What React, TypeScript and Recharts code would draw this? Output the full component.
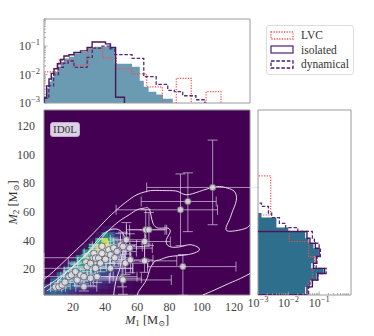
import React from "react";
import {
  ComposedChart,
  Area,
  Line,
  Scatter,
  XAxis,
  YAxis,
  ErrorBar,
  ReferenceArea,
  Legend,
  Label,
} from "recharts";

const SERIF = '"Liberation Serif", "DejaVu Serif", serif';

// marginal histograms: [bin start, density], last entry closes the last bin
const topTotal: number[][] = [
  [2, 0.0017], [3.6, 0.0033], [5.1, 0.0056], [6.5, 0.0084], [8.2, 0.0125], [10.3, 0.019],
  [12.3, 0.028], [14.4, 0.037], [17.5, 0.042], [20.6, 0.055], [24.7, 0.062], [28.8, 0.083],
  [33, 0.095], [43.3, 0.085], [46, 0.024], [56.7, 0.019], [61.5, 0.006], [64, 0.0037],
  [67, 0.0025], [71.8, 0.002], [75.9, 0.0014], [82, 0],
];
const topIsolated: number[][] = [
  [2, 0.0015], [3.6, 0.004], [5.1, 0.007], [6.5, 0.011], [8.2, 0.016], [10.3, 0.024],
  [12.3, 0.034], [14.4, 0.045], [17.5, 0.05], [20.6, 0.06], [24.7, 0.068], [28.8, 0.09],
  [31.9, 0.14], [40.2, 0.12], [43.3, 0.09], [46.5, 0.0016], [52, 0],
];
const topDynamical: number[][] = [
  [2, 0.0015], [5, 0.004], [8, 0.01], [11, 0.018], [14, 0.025], [17, 0.03], [20.6, 0.018],
  [28.8, 0.04], [32, 0.085], [38, 0.1], [43, 0.08], [46, 0.05], [56.7, 0.037], [64, 0.0084],
  [71.7, 0.0045], [78.9, 0.0028], [83, 0.0025], [88.2, 0.0018], [96.4, 0.0013], [102, 0],
];
const topLVC: number[][] = [
  [2, 0.0125], [11.3, 0.032], [20.6, 0.022], [29.4, 0.085], [38.5, 0.038], [47, 0.016],
  [56.5, 0.0105], [65.8, 0.0037], [75.5, 0], [84.2, 0.0074], [93.5, 0], [102.7, 0.0025], [112, 0],
];

const sideTotal: number[][] = [
  [2, 0.035], [7.7, 0.05], [12.4, 0.083], [17, 0.14], [20.6, 0.055], [24.1, 0.07], [28.8, 0.095],
  [34.6, 0.065], [38.1, 0.045], [41.6, 0.035], [46.3, 0.0098], [49, 0.004], [56, 0.0013], [59.1, 0],
];
const sideIsolated: number[][] = [
  [2, 0.04], [7.7, 0.06], [12.4, 0.09], [17, 0.15], [20.6, 0.065], [24.1, 0.08], [28.8, 0.1],
  [34.6, 0.075], [38.1, 0.05], [41.6, 0.04], [46.3, 0],
];
const sideDynamical: number[][] = [
  [2, 0.045], [7.7, 0.05], [12.4, 0.09], [17, 0.17], [20.6, 0.08], [24.1, 0.085], [28.8, 0.11],
  [34.6, 0.1], [38.1, 0.07], [41.6, 0.06], [46.3, 0.02], [49, 0.008], [52, 0.005], [56, 0.0028],
  [59.1, 0.0022], [63.8, 0.0013], [66, 0],
];
const sideLVC: number[][] = [
  [2, 0.045], [11.3, 0.06], [20.6, 0.07], [28.8, 0.045], [39.3, 0.0105], [46.3, 0],
  [57.8, 0.0026], [85, 0],
];

// 2D density (rows = M2 bins from the bottom, cols = M1 bins)
const heatM1Edges = [2, 6, 10, 14, 18, 22, 26, 30, 34, 38, 42, 46, 50, 54, 58, 62];
const heatM2Edges = [2, 6, 10, 14, 18, 22, 26, 30, 34, 38, 42, 46, 50];
const heatDensity: number[][] = [
  [0.25, 0.35, 0.3, 0.22, 0.15, 0.1, 0.08, 0.06, 0.05, 0.04, 0.03, 0.02, 0.02, 0.01, 0],
  [0.2, 0.45, 0.48, 0.4, 0.3, 0.22, 0.16, 0.12, 0.1, 0.08, 0.06, 0.05, 0.03, 0.02, 0.01],
  [0.02, 0.3, 0.5, 0.5, 0.45, 0.36, 0.28, 0.22, 0.18, 0.14, 0.11, 0.08, 0.05, 0.03, 0.01],
  [0, 0.05, 0.35, 0.52, 0.55, 0.5, 0.42, 0.34, 0.28, 0.22, 0.16, 0.11, 0.07, 0.03, 0.01],
  [0, 0, 0.05, 0.4, 0.55, 0.6, 0.55, 0.46, 0.38, 0.3, 0.22, 0.15, 0.08, 0.04, 0.02],
  [0, 0, 0, 0.05, 0.45, 0.6, 0.65, 0.62, 0.52, 0.42, 0.32, 0.2, 0.1, 0.05, 0.02],
  [0, 0, 0, 0, 0.05, 0.5, 0.68, 0.75, 0.72, 0.6, 0.42, 0.26, 0.12, 0.05, 0.02],
  [0, 0, 0, 0, 0, 0.05, 0.55, 0.75, 0.85, 0.85, 0.58, 0.3, 0.12, 0.04, 0.01],
  [0, 0, 0, 0, 0, 0, 0.05, 0.6, 0.85, 0.98, 0.75, 0.32, 0.1, 0.03, 0],
  [0, 0, 0, 0, 0, 0, 0, 0.05, 0.6, 0.9, 0.6, 0.22, 0.05, 0.01, 0],
  [0, 0, 0, 0, 0, 0, 0, 0, 0.05, 0.45, 0.35, 0.12, 0.02, 0, 0],
  [0, 0, 0, 0, 0, 0, 0, 0, 0, 0.05, 0.08, 0.03, 0, 0, 0],
];

// contour lines [M1, M2]
const contourOuter: number[][] = [
  [2, 13], [8, 18.5], [16, 27], [24, 35.5], [30, 42], [36, 49], [42, 56], [49.5, 63.7],
  [55, 68.5], [59.8, 72], [65, 74], [69.7, 74.9], [78, 74.8], [85.2, 74.2], [90.4, 71.9],
  [98.6, 74.2], [105, 76.5], [111, 77.7], [116, 76.5], [120.3, 74.2], [121.5, 68],
  [119, 60], [117.2, 54.4], [115.1, 47.5], [121, 46.8], [127.5, 48.6], [130, 51],
];
const contourMid: number[][] = [
  [2, 7], [10, 13], [20, 22], [30, 32], [38, 42], [44, 49], [50, 54.5], [55, 58], [60, 61.5],
  [64.5, 62.6], [67.6, 61.4], [69.7, 52.1], [73.8, 48.6], [79, 48.6], [80.3, 45.5], [78, 40.5],
  [80, 35.8], [87.3, 35.8], [93.5, 37], [98.6, 33.5], [90.4, 30], [80, 28.8], [73.8, 26.5],
  [70.7, 25.3], [67.6, 19.5], [65.6, 12.5], [61.4, 5.5], [60, 2],
];
const contourInner: number[][] = [
  [4, 5], [8, 8.5], [14.4, 16], [20, 21.5], [26, 28], [32, 35.5], [37.1, 42.8], [43.3, 47.5],
  [48.4, 47.5], [51.5, 44], [52.6, 38.1], [50.5, 30], [49.5, 21.8], [47.4, 14.8], [46, 8], [45.3, 2],
];
const contourLow: number[][] = [
  [100.6, 2], [108, 5.5], [117.2, 10.2], [124, 13.5], [130, 17],
];

// events: [M1, M2, M1 minus, M1 plus, M2 minus, M2 plus]
const events: number[][] = [
  [9, 7.5, 3, 4, 2, 3], [11.3, 7.8, 2, 4, 2, 2], [13.3, 9, 3, 5, 2, 3], [15, 11, 4, 6, 3, 4],
  [17.5, 14.8, 5, 8, 4, 4], [19, 16, 5, 7, 4, 5], [21.6, 18.3, 7, 10, 5, 5], [22.6, 12.5, 6, 10, 4, 5],
  [24.7, 16, 6, 9, 5, 5], [26.8, 14.8, 24.8, 33, 5, 5], [26.8, 7.8, 5, 8, 3, 4], [28, 25, 5, 8, 5, 5],
  [28.8, 21.8, 8, 12, 6, 6], [30.9, 24.2, 8, 14, 7, 7], [30.9, 13.7, 7, 12, 5, 6], [32.5, 28, 30.5, 9, 8, 7],
  [33, 31, 6, 8, 5, 6], [34, 27.7, 6, 9, 6, 6], [34, 20.6, 32, 23, 5, 6], [35, 14.8, 6, 10, 4, 6],
  [36, 27.7, 7, 9, 6, 6], [37.1, 24.2, 20, 15, 6, 6], [38, 31, 6, 8, 6, 6], [38, 36, 6, 8, 6, 5],
  [40.2, 26.9, 8, 12, 6, 7], [42.2, 33.5, 7, 10, 7, 6], [43.3, 30, 7, 9, 6, 6], [43.3, 20.6, 8, 14, 6, 8],
  [45.3, 34.7, 8, 10, 7, 7], [46, 28, 7, 10, 6, 7], [47.4, 32.3, 8, 12, 7, 8], [49.5, 37, 8, 10, 8, 8],
  [51.1, 35.8, 9, 12, 9, 10], [53.2, 40.5, 10, 12, 10, 12], [52.6, 24.2, 10, 14, 8, 10],
  [50.5, 13.7, 8, 12, 6, 10], [51.1, 12.5, 30, 30, 10, 22], [55.3, 34.7, 10, 14, 9, 10],
  [55.7, 26.5, 10, 14, 9, 10], [64.5, 39.3, 15, 16, 14, 8], [64.5, 25.8, 16, 20, 8, 10],
  [65.2, 47.5, 12, 12, 10, 14], [67.2, 47.5, 12, 11, 11, 12], [86.8, 61.4, 40, 23, 25, 25],
  [88.3, 21.8, 22, 33, 20, 8.4], [91.4, 67.2, 29, 17.6, 21, 20], [106.8, 77, 41, 30, 26, 33],
];

const massTicks = [20, 40, 60, 80, 100, 120];
const topTicks = [25, 50, 75, 100, 125];
const logTicks = [
  0.001, 0.002, 0.003, 0.004, 0.005, 0.006, 0.007, 0.008, 0.009,
  0.01, 0.02, 0.03, 0.04, 0.05, 0.06, 0.07, 0.08, 0.09,
  0.1, 0.2, 0.3, 0.4, 0.5, 0.6, 0.7, 0.8, 0.9,
];

const legendItems = [
  { label: "LVC", stroke: "#ff4a4a", dash: "1.2 1.4" },
  { label: "isolated", stroke: "#5b2f80", dash: undefined },
  { label: "dynamical", stroke: "#4a1a6b", dash: "3.5 1.8" },
];

const VIRIDIS = [
  "#440154", "#482475", "#414487", "#355f8d", "#2a788e", "#21918c",
  "#22a884", "#44bf70", "#7ad151", "#bddf26", "#fde725",
];

function viridis(t: number) {
  const p = Math.max(0, Math.min(1, t)) * 10;
  const i = Math.min(9, Math.floor(p));
  const f = p - i;
  const a = VIRIDIS[i];
  const b = VIRIDIS[i + 1];
  const ch = (h: string, k: number) => parseInt(h.slice(1 + 2 * k, 3 + 2 * k), 16);
  const rgb = [0, 1, 2].map((k) => Math.round(ch(a, k) + (ch(b, k) - ch(a, k)) * f));
  return `rgb(${rgb.join(",")})`;
}

const FLOOR = 1e-6;

// turn [start, value] bins into step points
function toSteps(bins: number[][], posKey: string, valKey: string) {
  const pts: Record<string, number>[] = [{ [posKey]: bins[0][0], [valKey]: FLOOR }];
  for (let i = 0; i < bins.length - 1; i++) {
    const v = bins[i][1] || FLOOR;
    pts.push({ [posKey]: bins[i][0], [valKey]: v });
    pts.push({ [posKey]: bins[i + 1][0], [valKey]: v });
  }
  pts.push({ [posKey]: bins[bins.length - 1][0], [valKey]: FLOOR });
  return pts;
}

const toXY = (pts: number[][]) => pts.map(([x, y]) => ({ x, y }));

const eventData = events.map(([x, y, xl, xh, yl, yh]) => ({ x, y, ex: [xl, xh], ey: [yl, yh] }));

const heatCells: { x1: number; x2: number; y1: number; y2: number; v: number }[] = [];
heatDensity.forEach((row, j) =>
  row.forEach((v, i) => {
    if (v > 0.005) {
      heatCells.push({ x1: heatM1Edges[i], x2: heatM1Edges[i + 1], y1: heatM2Edges[j], y2: heatM2Edges[j + 1], v });
    }
  })
);

function isMajor(v: number) {
  const e = Math.log10(v);
  return Math.abs(e - Math.round(e)) < 1e-6;
}

function LogTickY(props: any) {
  const { x, y, payload } = props;
  const major = isMajor(payload.value);
  const exp = Math.round(Math.log10(payload.value));
  return (
    <g>
      <line x1={x} x2={x + (major ? 3.5 : 2)} y1={y} y2={y} stroke="#999" strokeWidth={0.8} />
      {major && (
        <text x={x - 4} y={y + 4} textAnchor="end" fontSize={12} fill="#444" fontFamily={SERIF}>
          10<tspan dy={-5} fontSize={8.5}>{`−${-exp}`}</tspan>
        </text>
      )}
    </g>
  );
}

function LogTickX(props: any) {
  const { x, y, payload } = props;
  const major = isMajor(payload.value);
  const exp = Math.round(Math.log10(payload.value));
  return (
    <g>
      <line x1={x} x2={x} y1={y} y2={y - (major ? 3.5 : 2)} stroke="#999" strokeWidth={0.8} />
      {major && (
        <text x={x} y={y + 12} textAnchor="middle" fontSize={12} fill="#444" fontFamily={SERIF}>
          10<tspan dy={-5} fontSize={8.5}>{`−${-exp}`}</tspan>
        </text>
      )}
    </g>
  );
}

function MassTitle({ cx, cy, sub, rotate }: { cx: number; cy: number; sub: string; rotate?: boolean }) {
  return (
    <text
      x={cx}
      y={cy}
      textAnchor="middle"
      dominantBaseline="central"
      fontSize={12.5}
      fill="#333"
      fontFamily={SERIF}
      transform={rotate ? `rotate(-90, ${cx}, ${cy})` : undefined}
    >
      <tspan fontStyle="italic">M</tspan>
      <tspan fontSize={9} dy={3}>{sub}</tspan>
      <tspan dy={-3}> [M</tspan>
      <tspan fontSize={8} dy={3}>⊙</tspan>
      <tspan dy={-3}>]</tspan>
    </text>
  );
}

function HistLegend() {
  return (
    <div
      style={{
        background: "#fff",
        border: "1px solid #dcdcdc",
        borderRadius: 3,
        padding: "2px 4px 2px 3px",
        fontFamily: SERIF,
        fontSize: 11.5,
        color: "#333",
        lineHeight: "14.5px",
        whiteSpace: "nowrap",
      }}
    >
      {legendItems.map((it) => (
        <div key={it.label} style={{ display: "flex", alignItems: "center" }}>
          <svg width={24} height={9} style={{ marginRight: 7 }}>
            <rect x={1} y={1} width={22} height={7} fill="none" stroke={it.stroke} strokeWidth={1.3} strokeDasharray={it.dash} />
          </svg>
          <span>{it.label}</span>
        </div>
      ))}
    </div>
  );
}

const dot = (p: any) => (
  <circle cx={p.cx} cy={p.cy} r={3.3} fill="#e4e1e8" fillOpacity={0.8} stroke="#5e5a63" strokeWidth={0.8} />
);

export default function App() {
  return (
    <div style={{ position: "absolute", left: 0, top: 0, width: 374, height: 336, background: "#fff" }}>
      {/* main joint panel */}
      <div style={{ position: "absolute", left: 0, top: 104 }}>
        <ComposedChart width={260} height={232} margin={{ top: 6, right: 10, bottom: 0, left: 0 }}>
          <XAxis
            type="number"
            dataKey="x"
            domain={[2, 130]}
            allowDataOverflow
            ticks={massTicks}
            interval={0}
            height={41}
            tickLine={false}
            axisLine={false}
            tickMargin={1}
            tick={{ fill: "#444", fontSize: 12, fontFamily: SERIF }}
          >
            <Label content={(p: any) => <MassTitle cx={p.viewBox.x + p.viewBox.width / 2} cy={p.viewBox.y + 25} sub="1" />} />
          </XAxis>
          <YAxis
            type="number"
            dataKey="y"
            domain={[2, 131]}
            allowDataOverflow
            ticks={massTicks}
            interval={0}
            width={44}
            tickLine={false}
            axisLine={false}
            tickMargin={3}
            tick={{ fill: "#444", fontSize: 12, fontFamily: SERIF }}
          >
            <Label content={(p: any) => <MassTitle cx={p.viewBox.x + 13} cy={p.viewBox.y + p.viewBox.height / 2} sub="2" rotate />} />
          </YAxis>
          <ReferenceArea x1={2} x2={130} y1={2} y2={131} fill="#440154" fillOpacity={1} stroke="none" />
          {heatCells.map((c, k) => (
            <ReferenceArea
              key={k}
              x1={c.x1}
              x2={c.x2}
              y1={c.y1}
              y2={c.y2}
              fill={viridis(c.v)}
              fillOpacity={1}
              stroke={viridis(c.v)}
              strokeWidth={0.5}
            />
          ))}
          {[contourOuter, contourMid, contourInner, contourLow].map((c, k) => (
            <Line
              key={k}
              data={toXY(c)}
              dataKey="y"
              type="natural"
              stroke="#ffffff"
              strokeOpacity={0.85}
              strokeWidth={1}
              dot={false}
              isAnimationActive={false}
            />
          ))}
          <Scatter data={eventData} shape={dot} isAnimationActive={false}>
            <ErrorBar dataKey="ex" direction="x" width={5} stroke="#e2d9ec" strokeOpacity={0.65} strokeWidth={1} />
            <ErrorBar dataKey="ey" direction="y" width={5} stroke="#e2d9ec" strokeOpacity={0.65} strokeWidth={1} />
          </Scatter>
          <ReferenceArea x1={2} x2={130} y1={2} y2={131} fill="none" stroke="#8c8c8c" strokeWidth={1} />
        </ComposedChart>
      </div>

      {/* side marginal */}
      <div style={{ position: "absolute", left: 238, top: 104 }}>
        <ComposedChart layout="vertical" width={136} height={232} margin={{ top: 6, right: 23, bottom: 0, left: 20 }}>
          <XAxis
            type="number"
            scale="log"
            domain={[0.001, 1.1]}
            allowDataOverflow
            ticks={logTicks}
            interval={0}
            height={41}
            tick={<LogTickX />}
            tickLine={false}
            tickSize={0}
            tickMargin={0}
            axisLine={false}
          />
          <YAxis
            type="number"
            dataKey="m"
            domain={[2, 131]}
            allowDataOverflow
            reversed
            ticks={massTicks}
            width={0}
            tick={false}
            mirror
            tickSize={3}
            axisLine={false}
            stroke="#999"
          />
          <Area
            data={toSteps(sideTotal, "m", "v")}
            dataKey="v"
            type="linear"
            fill="#2e6f8e"
            fillOpacity={1}
            stroke="none"
            baseValue="dataMin"
            isAnimationActive={false}
          />
          <Line data={toSteps(sideLVC, "m", "v")} dataKey="v" type="linear" stroke="#ff4a4a" strokeWidth={1.2} strokeDasharray="1.2 1.4" dot={false} isAnimationActive={false} />
          <Line data={toSteps(sideDynamical, "m", "v")} dataKey="v" type="linear" stroke="#55297a" strokeWidth={1.3} strokeDasharray="3.5 1.8" dot={false} isAnimationActive={false} />
          <Line data={toSteps(sideIsolated, "m", "v")} dataKey="v" type="linear" stroke="#45185f" strokeWidth={1.4} dot={false} isAnimationActive={false} />
          <ReferenceArea x1={0.001} x2={1.1} y1={2} y2={131} fill="none" stroke="#9a9a9a" strokeWidth={1} />
        </ComposedChart>
      </div>

      {/* top marginal */}
      <div style={{ position: "absolute", left: 0, top: 0 }}>
        <ComposedChart width={374} height={114} margin={{ top: 19, right: 124, bottom: 11, left: 0 }}>
          <XAxis
            type="number"
            dataKey="x"
            domain={[2, 130]}
            allowDataOverflow
            ticks={topTicks}
            tick={false}
            mirror
            tickSize={3}
            height={0}
            axisLine={false}
            stroke="#999"
          />
          <YAxis
            type="number"
            scale="log"
            domain={[0.001, 0.9]}
            allowDataOverflow
            ticks={logTicks}
            interval={0}
            width={44}
            tick={<LogTickY />}
            tickLine={false}
            tickSize={0}
            tickMargin={0}
            axisLine={false}
          />
          <Area
            data={toSteps(topTotal, "x", "y")}
            dataKey="y"
            type="linear"
            fill="#6a9bb2"
            fillOpacity={1}
            stroke="none"
            baseValue="dataMin"
            isAnimationActive={false}
          />
          <Line data={toSteps(topLVC, "x", "y")} dataKey="y" type="linear" stroke="#ff4a4a" strokeWidth={1.2} strokeDasharray="1.2 1.4" dot={false} isAnimationActive={false} />
          <Line data={toSteps(topDynamical, "x", "y")} dataKey="y" type="linear" stroke="#55297a" strokeWidth={1.3} strokeDasharray="3.5 1.8" dot={false} isAnimationActive={false} />
          <Line data={toSteps(topIsolated, "x", "y")} dataKey="y" type="linear" stroke="#45185f" strokeWidth={1.4} dot={false} isAnimationActive={false} />
          <ReferenceArea x1={2} x2={130} y1={0.001} y2={0.9} fill="none" stroke="#9a9a9a" strokeWidth={1} />
          <Legend
            content={<HistLegend />}
            layout="vertical"
            align="center"
            verticalAlign="middle"
            wrapperStyle={{ left: 266, top: 25, width: "auto", height: "auto" }}
          />
        </ComposedChart>
      </div>

      <div
        style={{
          position: "absolute",
          left: 50,
          top: 122,
          width: 30,
          height: 15,
          background: "#dcd2e4",
          border: "1px solid #b9adc4",
          borderRadius: 3,
          boxSizing: "border-box",
          fontFamily: SERIF,
          fontSize: 11,
          color: "#333",
          textAlign: "center",
          lineHeight: "13px",
        }}
      >
        ID0L
      </div>
    </div>
  );
}
